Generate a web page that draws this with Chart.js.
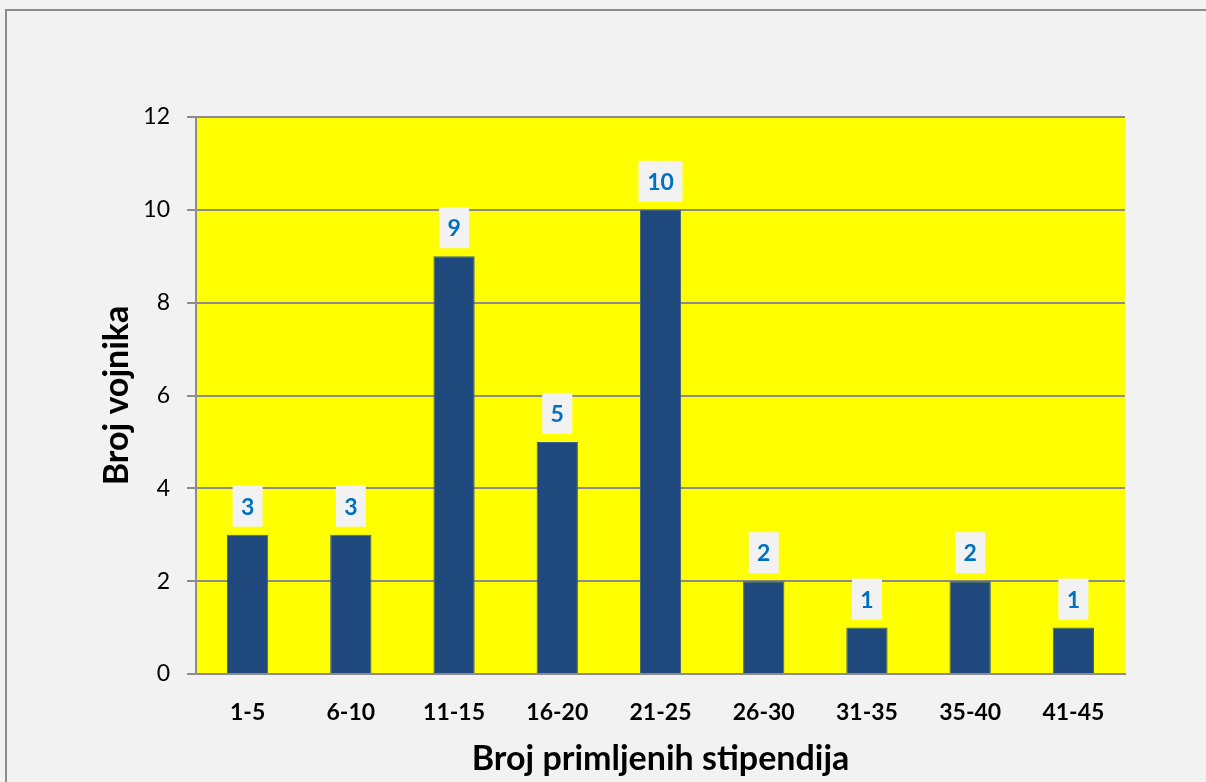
<!DOCTYPE html>
<html>
<head>
<meta charset="utf-8">
<script src="https://cdn.jsdelivr.net/npm/chart.js@4.4.1/dist/chart.umd.min.js"></script>
<style>
  html, body { margin: 0; padding: 0; background: #f2f2f2; overflow: hidden; }
  #wrap { position: relative; width: 1206px; height: 782px; }
  canvas { display: block; }
</style>
</head>
<body>
<div id="wrap"><canvas id="c" width="1206" height="782"></canvas></div>
<script>
const categories = ['1-5', '6-10', '11-15', '16-20', '21-25', '26-30', '31-35', '35-40', '41-45'];
const soldierCounts = [3, 3, 9, 5, 10, 2, 1, 2, 1];
const yTicks = [0, 2, 4, 6, 8, 10, 12];
const xTitle = 'Broj primljenih stipendija';
const yTitle = 'Broj vojnika';

const FONT = 'Lato, "Open Sans", sans-serif';

const frameAndBg = {
  id: 'frameAndBg',
  beforeDraw(chart) {
    const ctx = chart.ctx;
    const a = chart.chartArea;
    ctx.save();
    ctx.fillStyle = '#f2f2f2';
    ctx.fillRect(0, 0, chart.width, chart.height);
    ctx.strokeStyle = '#8c8c8c';
    ctx.lineWidth = 2;
    ctx.beginPath();
    ctx.moveTo(6, chart.height + 5);
    ctx.lineTo(6, 10);
    ctx.lineTo(chart.width + 5, 10);
    ctx.stroke();
    ctx.fillStyle = '#ffff00';
    ctx.fillRect(a.left, a.top, a.right - a.left, a.bottom - a.top);
    ctx.restore();
  }
};

const valueBoxes = {
  id: 'valueBoxes',
  afterDatasetsDraw(chart) {
    const ctx = chart.ctx;
    const meta = chart.getDatasetMeta(0);
    ctx.save();
    ctx.font = 'bold 23px ' + FONT;
    ctx.textAlign = 'center';
    ctx.textBaseline = 'middle';
    meta.data.forEach((bar, i) => {
      const txt = String(chart.data.datasets[0].data[i]);
      const w = txt.length > 1 ? 44 : 30;
      const h = 41;
      const bottom = bar.y - 8;
      ctx.fillStyle = '#f2f2f2';
      ctx.fillRect(bar.x - w / 2, bottom - h, w, h);
      ctx.fillStyle = '#0070c0';
      ctx.fillText(txt, bar.x, bottom - h / 2 + 1);
    });
    ctx.restore();
  }
};

new Chart(document.getElementById('c'), {
  type: 'bar',
  data: {
    labels: categories,
    datasets: [{
      data: soldierCounts,
      backgroundColor: '#1f497d',
      borderColor: '#3c5f86',
      borderWidth: 1,
      barPercentage: 0.4,
      categoryPercentage: 1.0
    }]
  },
  options: {
    responsive: false,
    animation: false,
    devicePixelRatio: 1,
    layout: { padding: { top: 117, right: 81, left: 0, bottom: 0 } },
    plugins: { legend: { display: false }, tooltip: { enabled: false } },
    scales: {
      x: {
        grid: { display: false, drawTicks: false },
        border: { display: true, color: '#8c8c8c', width: 2 },
        ticks: { color: '#000', font: { family: FONT, size: 23, weight: 'bold' }, padding: 25, maxRotation: 0 },
        title: { display: true, text: xTitle, color: '#000', font: { family: FONT, size: 34, weight: 'bold' }, padding: { top: 0, bottom: 3 } },
        afterFit(scale) { scale.height = 108; }
      },
      y: {
        min: 0, max: 12,
        afterBuildTicks(scale) { scale.ticks = yTicks.map(v => ({ value: v })); },
        grid: { color: '#8c8c8c', lineWidth: 2, tickLength: 9, drawTicks: true },
        border: { display: true, color: '#8c8c8c', width: 2 },
        ticks: { color: '#000', font: { family: FONT, size: 23 }, padding: 17 },
        title: { display: true, text: yTitle, color: '#000', font: { family: FONT, size: 34, weight: 'bold' }, padding: { top: 97, bottom: 0 } },
        afterFit(scale) { scale.width = 196; }
      }
    }
  },
  plugins: [frameAndBg, valueBoxes]
});
</script>
</body>
</html>
